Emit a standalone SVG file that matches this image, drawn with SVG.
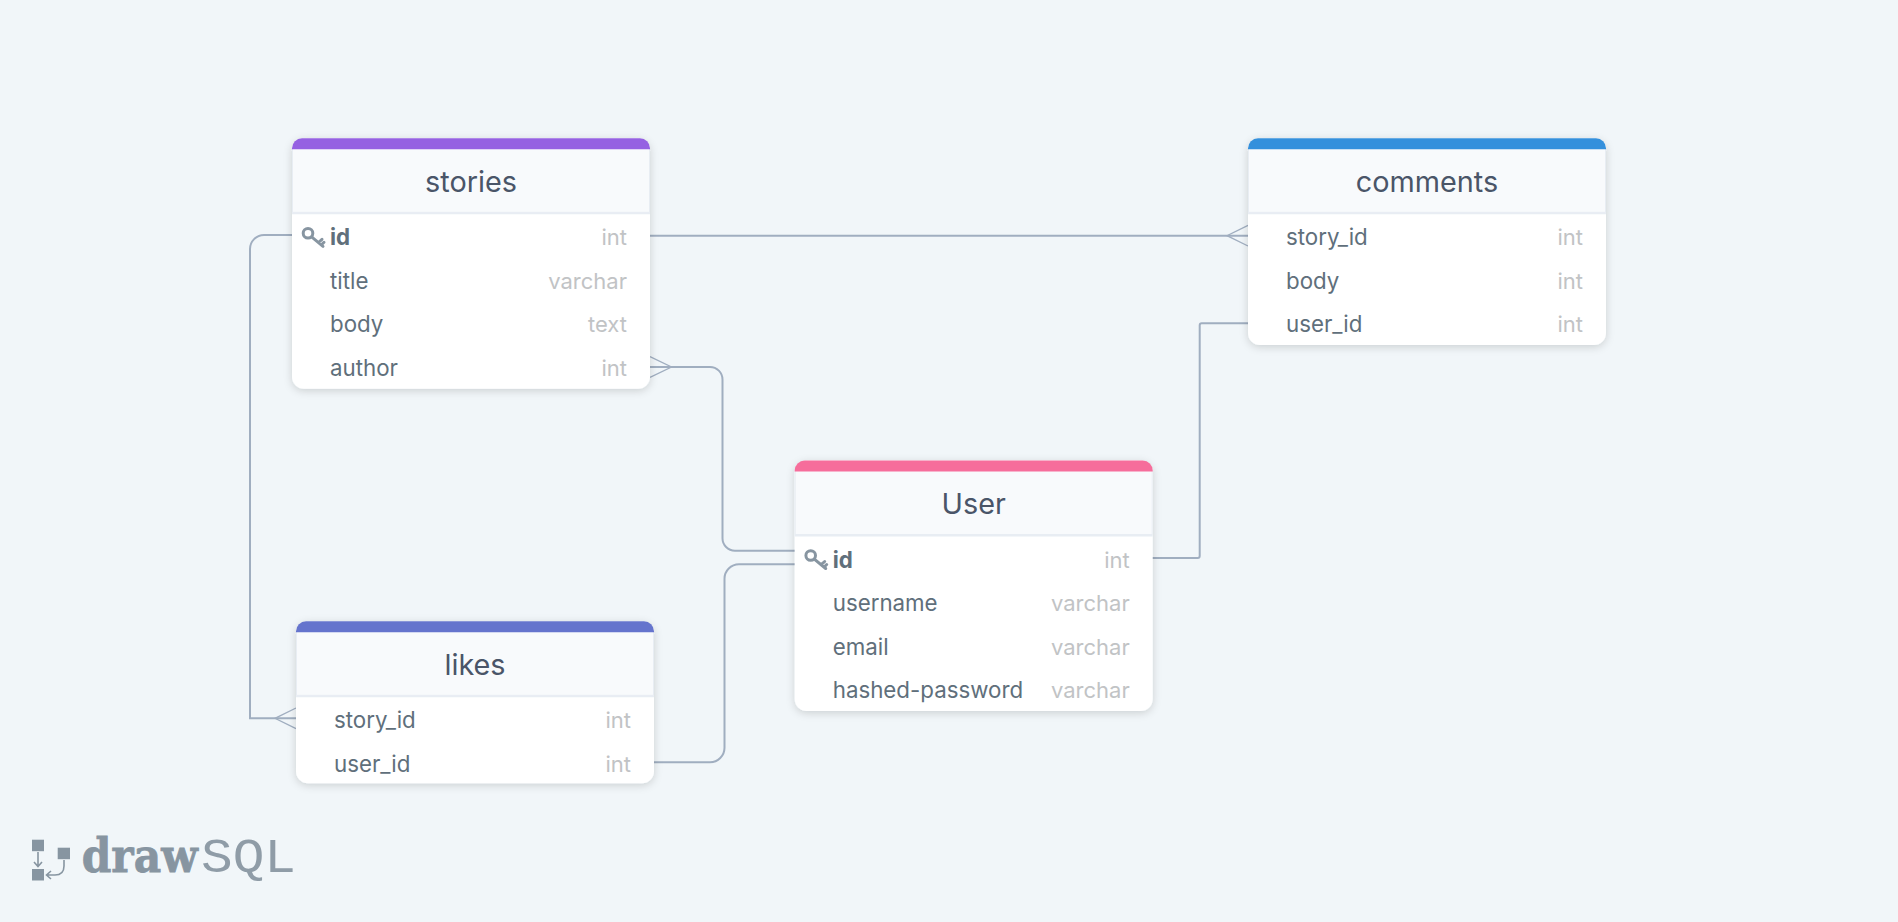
<svg xmlns="http://www.w3.org/2000/svg" width="1898" height="922" viewBox="0 0 1898 922">
<style>
.card{fill:#fff;filter:url(#sh)}
.head{fill:#f8fafc;stroke:#e8edf3;stroke-width:1}
.sep{stroke:#e8edf3;stroke-width:2}
.title{font:400 28.800px Inter,"Liberation Sans",sans-serif;fill:#4a5568;text-anchor:middle}
.col{font:400 22.300px Inter,"Liberation Sans",sans-serif;fill:#606f7b}
.pk{font-weight:700}
.typ{font:400 22px Inter,"Liberation Sans",sans-serif;fill:#c1c3c5;text-anchor:end}
.c{fill:none;stroke:#a0aec0;stroke-width:2}
.f{fill:none;stroke:#a0aec0;stroke-width:1.300}
.lg{fill:#8795a1}
.la{fill:none;stroke:#8795a1;stroke-width:1.600}
</style>
<defs>
<filter id="sh" x="-10%" y="-10%" width="120%" height="125%"><feDropShadow dx="0" dy="2" stdDeviation="4" flood-color="#000" flood-opacity=".16"/></filter>
<g id="key" fill="none" stroke="#8795a1" stroke-width="3"><circle cx="0" cy="0" r="4.800"/><path d="M3.600 3.600L15 13M10.500 9.200L14 6M13.500 11.500L16 9" stroke-linecap="round"/></g>
<path id="bar" d="M0 11V10A10 10 0 0 1 10 0H348A10 10 0 0 1 358 10V11Z"/>
</defs>
<rect width="1898" height="922" fill="#f1f6f9"/>
<g id="connectors">
<path class="c" d="M292 235H264A14 14 0 0 0 250 249V718.300H296"/>
<path class="f" d="M296 708L275 718.300L296 728.600"/>
<path class="c" d="M650 235.700H1248"/>
<path class="f" d="M1248 225.400L1227 235.700L1248 246"/>
<path class="c" d="M650 367H710A12.500 12.500 0 0 1 722.500 379.500V538A12.500 12.500 0 0 0 735 550.700H795"/>
<path class="f" d="M650 356.700L671.500 367L650 377.300"/>
<path class="c" d="M654 762.300H710A14.500 14.500 0 0 0 724.500 747.800V578.800A14.500 14.500 0 0 1 739 564.300H795"/>
<path class="c" d="M1152 558H1197.700A2 2 0 0 0 1199.700 556V325.300A2 2 0 0 1 1201.700 323.300H1248"/>
</g>
<g id="stories" transform="translate(292 138.300)">
<rect class="card" width="358" height="250.500" rx="12"/>
<rect class="head" x=".5" y="10" width="357" height="64"/>
<path d="M0 75H358" class="sep"/>
<use href="#bar" fill="#9561e2"/>
<text class="title" x="179" y="53.800">stories</text>
<use href="#key" x="16" y="95"/>
<text class="col pk" x="38" y="107.200">id</text><text class="typ" x="335" y="107.200">int</text>
<text class="col" x="38" y="150.500">title</text><text class="typ" x="335" y="150.500">varchar</text>
<text class="col" x="38" y="194">body</text><text class="typ" x="335" y="194">text</text>
<text class="col" x="38" y="237.300">author</text><text class="typ" x="335" y="237.300">int</text>
</g>
<g id="comments" transform="translate(1248 138.300)">
<rect class="card" width="358" height="206.800" rx="12"/>
<rect class="head" x=".5" y="10" width="357" height="64"/>
<path d="M0 75H358" class="sep"/>
<use href="#bar" fill="#3490dc"/>
<text class="title" x="179" y="53.800">comments</text>
<text class="col" x="38" y="107.200">story_id</text><text class="typ" x="335" y="107.200">int</text>
<text class="col" x="38" y="150.500">body</text><text class="typ" x="335" y="150.500">int</text>
<text class="col" x="38" y="194">user_id</text><text class="typ" x="335" y="194">int</text>
</g>
<g id="user" transform="translate(794.700 460.500)">
<rect class="card" width="358" height="250.500" rx="12"/>
<rect class="head" x=".5" y="10" width="357" height="64"/>
<path d="M0 75H358" class="sep"/>
<use href="#bar" fill="#f66d9b"/>
<text class="title" x="179" y="53.800">User</text>
<use href="#key" x="16" y="95"/>
<text class="col pk" x="38" y="107.200">id</text><text class="typ" x="335" y="107.200">int</text>
<text class="col" x="38" y="150.500">username</text><text class="typ" x="335" y="150.500">varchar</text>
<text class="col" x="38" y="194">email</text><text class="typ" x="335" y="194">varchar</text>
<text class="col" x="38" y="237.300">hashed-password</text><text class="typ" x="335" y="237.300">varchar</text>
</g>
<g id="likes" transform="translate(296 621.300)">
<rect class="card" width="358" height="162" rx="12"/>
<rect class="head" x=".5" y="10" width="357" height="64"/>
<path d="M0 75H358" class="sep"/>
<use href="#bar" fill="#6574cd"/>
<text class="title" x="179" y="53.800">likes</text>
<text class="col" x="38" y="107.200">story_id</text><text class="typ" x="335" y="107.200">int</text>
<text class="col" x="38" y="150.500">user_id</text><text class="typ" x="335" y="150.500">int</text>
</g>
<g id="logo">
<rect class="lg" x="32" y="839.700" width="12" height="11.500"/>
<rect class="lg" x="57.700" y="847.700" width="12.300" height="11.500"/>
<rect class="lg" x="32" y="869" width="12" height="11.500"/>
<path class="la" d="M38 852V866M34 862L38 866.500L42 862"/>
<path class="la" d="M64 860V866Q64 875 55 875H47M51 871L46.500 875L51 879"/>
<text x="81.700" y="872.300" font-family="'DejaVu Serif',serif" font-weight="700" font-size="46" fill="#8795a1" stroke="#8795a1" stroke-width=".8" textLength="116" lengthAdjust="spacingAndGlyphs">draw</text>
<text x="201" y="872" font-family="'Liberation Mono',monospace" font-size="49" fill="#8f9ca7" textLength="95" lengthAdjust="spacingAndGlyphs">SQL</text>
</g>
</svg>
